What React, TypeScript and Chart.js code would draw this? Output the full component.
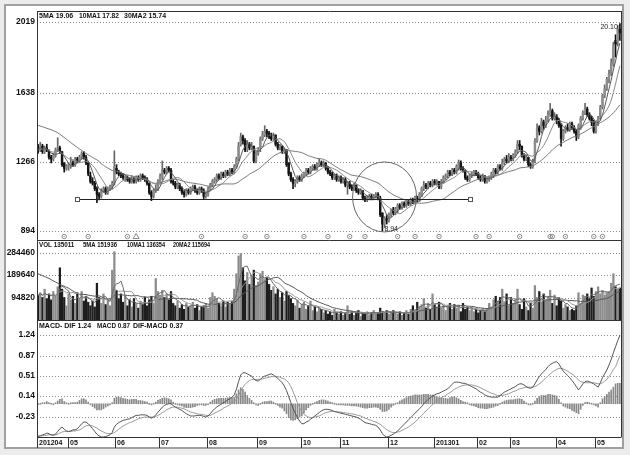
import React, { useEffect, useRef } from "react";
import { Chart, registerables } from "chart.js";

Chart.register(...registerables);

// ---------------- data ----------------
const monthLabels = ["201204", "05", "06", "07", "08", "09", "10", "11", "12", "201301", "02", "03", "04", "05"];
const monthStarts = [0, 14, 36, 56, 78, 101, 121, 139, 161, 182, 202, 217, 238, 256];

const opens = [
  13.5, 13.3, 13.5, 13.2, 13.4, 13.2, 12.9, 12.8, 13.0, 13.3,
  13.4, 13.2, 12.6, 12.3, 12.4, 12.4, 12.6, 12.5, 12.8, 12.7,
  12.9, 13.1, 12.9, 12.6, 11.9, 11.6, 11.5, 11.2, 10.9, 10.8,
  11.1, 11.2, 11.0, 11.2, 11.3, 11.5, 12.3, 12.1, 12.0, 11.9,
  11.8, 11.8, 11.7, 11.6, 11.7, 11.6, 11.8, 11.7, 11.9, 11.8,
  11.7, 11.5, 11.0, 10.8, 11.1, 11.2, 11.6, 11.8, 12.2, 12.1,
  12.3, 12.2, 11.6, 11.5, 11.3, 11.4, 11.2, 11.0, 10.9, 11.1,
  11.0, 11.2, 11.3, 11.1, 11.0, 11.2, 11.1, 10.8, 10.9, 11.2,
  11.4, 11.6, 11.7, 11.9, 11.8, 12.0, 11.9, 12.1, 12.0, 12.2,
  12.1, 12.4, 12.8, 13.6, 14.0, 13.8, 13.3, 13.6, 13.4, 13.5,
  12.7, 13.1, 13.4, 13.9, 14.1, 14.3, 14.2, 14.0, 13.9, 14.1,
  13.6, 13.4, 13.5, 13.2, 13.3, 12.6, 12.0, 11.7, 11.5, 11.6,
  11.8, 11.7, 11.9, 12.0, 12.2, 12.1, 12.3, 12.4, 12.3, 12.5,
  12.6, 12.5, 12.6, 12.3, 12.1, 12.0, 11.8, 11.9, 11.7, 11.8,
  11.6, 11.7, 11.4, 11.5, 11.3, 11.2, 11.4, 11.1, 11.0, 11.1,
  10.7, 10.6, 10.7, 10.8, 10.7, 10.8, 10.9, 10.7, 9.9, 9.3,
  9.6, 9.5, 9.8, 10.1, 9.9, 10.1, 10.3, 10.2, 10.4, 10.3,
  10.5, 10.4, 10.6, 10.5, 10.7, 10.6, 10.8, 11.2, 11.4, 11.3,
  11.5, 11.4, 11.6, 11.5, 11.6, 11.3, 11.6, 11.8, 11.9, 12.1,
  12.0, 12.2, 12.1, 12.3, 12.6, 12.3, 12.2, 11.8, 11.7, 11.9,
  12.0, 12.1, 12.0, 11.8, 11.7, 11.9, 11.6, 11.7, 11.8, 11.9,
  12.2, 12.1, 12.4, 12.3, 12.6, 12.8, 12.7, 12.9, 12.8, 13.0,
  13.2, 13.6, 13.5, 13.0, 12.8, 12.9, 12.5, 12.4, 12.8, 13.8,
  14.5, 14.3, 14.8, 14.6, 14.9, 15.2, 15.4, 15.0, 15.1, 14.9,
  14.7, 13.9, 14.3, 14.5, 14.4, 14.7, 14.5, 14.3, 14.0, 14.5,
  15.0, 15.3, 15.5, 15.2, 15.0, 14.8, 14.3, 14.7, 15.1, 15.6,
  16.2, 16.6, 17.1, 17.4, 17.9, 19.2, 19.1, 19.8,
];

const highs = [
  13.6, 13.7, 13.6, 13.5, 13.6, 13.3, 13.0, 13.1, 13.4, 13.95,
  13.5, 13.2, 12.6, 12.5, 12.6, 12.9, 12.7, 12.9, 12.9, 13.0,
  13.2, 13.2, 13.0, 12.6, 12.1, 11.8, 11.6, 11.3, 11.0, 11.2,
  11.3, 11.3, 11.3, 11.4, 11.6, 13.25, 12.5, 12.2, 12.1, 12.0,
  11.9, 11.9, 11.8, 11.9, 11.8, 11.9, 11.9, 12.0, 12.0, 11.9,
  11.8, 11.5, 11.1, 11.2, 11.4, 11.7, 12.0, 12.7, 12.3, 12.4,
  12.4, 12.3, 11.7, 11.6, 11.5, 11.5, 11.3, 11.1, 11.2, 11.2,
  11.3, 11.4, 11.4, 11.2, 11.3, 11.3, 11.2, 11.0, 11.3, 11.5,
  11.7, 11.8, 12.0, 12.0, 12.1, 12.1, 12.2, 12.2, 12.3, 12.3,
  12.5, 12.9, 13.7, 14.2, 14.1, 13.9, 13.8, 13.7, 13.7, 13.5,
  13.2, 13.4, 14.0, 14.3, 14.6, 14.4, 14.3, 14.2, 14.2, 14.1,
  13.7, 13.6, 13.5, 13.4, 13.3, 12.6, 12.1, 11.8, 11.7, 11.9,
  11.9, 12.0, 12.1, 12.3, 12.3, 12.4, 12.5, 12.5, 12.6, 12.8,
  12.7, 12.7, 12.6, 12.4, 12.2, 12.1, 12.0, 12.0, 11.9, 11.9,
  11.8, 11.8, 11.6, 11.6, 11.4, 11.5, 11.4, 11.2, 11.2, 11.1,
  10.8, 10.8, 10.9, 10.9, 10.9, 11.0, 11.0, 10.8, 9.9, 9.7,
  9.8, 9.9, 10.1, 10.2, 10.2, 10.4, 10.4, 10.5, 10.5, 10.6,
  10.6, 10.7, 10.7, 10.8, 10.8, 11.0, 11.3, 11.6, 11.5, 11.6,
  11.6, 11.7, 11.7, 11.7, 11.6, 11.7, 11.9, 12.0, 12.2, 12.2,
  12.3, 12.3, 12.5, 12.75, 12.7, 12.4, 12.2, 11.9, 12.0, 12.1,
  12.2, 12.2, 12.1, 11.9, 12.0, 11.9, 11.8, 11.9, 12.1, 12.3,
  12.3, 12.5, 12.5, 12.8, 12.9, 13.0, 13.1, 13.0, 13.1, 13.3,
  13.8, 13.8, 13.5, 13.1, 13.0, 12.9, 12.6, 12.8, 13.9, 14.7,
  14.6, 15.0, 14.9, 15.1, 15.4, 15.8, 15.5, 15.3, 15.2, 15.0,
  14.7, 14.4, 14.6, 14.7, 14.8, 14.8, 14.6, 14.4, 14.7, 15.1,
  15.4, 15.8, 15.6, 15.3, 15.1, 14.9, 14.8, 15.1, 15.7, 16.3,
  16.8, 17.2, 17.6, 18.2, 19.1, 19.5, 20.0, 20.1,
];

const lows = [
  13.1, 13.2, 13.1, 13.1, 13.2, 12.8, 12.6, 12.7, 12.9, 13.2,
  13.1, 12.4, 12.1, 12.2, 12.2, 12.3, 12.4, 12.4, 12.6, 12.6,
  12.8, 12.8, 12.5, 11.9, 11.5, 11.4, 11.1, 10.45, 10.6, 10.7,
  11.0, 10.9, 10.9, 11.1, 11.2, 11.4, 12.0, 11.9, 11.8, 11.7,
  11.6, 11.6, 11.5, 11.5, 11.5, 11.5, 11.6, 11.6, 11.7, 11.6,
  11.4, 10.9, 10.56, 10.7, 11.0, 11.1, 11.5, 11.7, 12.0, 12.0,
  12.1, 11.5, 11.4, 11.2, 11.2, 11.1, 10.9, 10.75, 10.8, 10.9,
  10.9, 11.1, 11.0, 10.9, 10.9, 11.0, 10.67, 10.7, 10.8, 11.1,
  11.3, 11.5, 11.6, 11.7, 11.7, 11.8, 11.8, 11.9, 11.9, 12.0,
  12.0, 12.3, 12.7, 13.5, 13.6, 13.2, 13.2, 13.3, 13.3, 12.6,
  12.6, 13.0, 13.2, 13.8, 14.0, 14.0, 13.9, 13.8, 13.8, 13.5,
  13.3, 13.3, 13.1, 13.1, 12.4, 11.9, 11.6, 11.2, 11.3, 11.5,
  11.6, 11.6, 11.8, 11.9, 12.0, 12.0, 12.2, 12.2, 12.2, 12.4,
  12.4, 12.4, 12.2, 12.0, 11.9, 11.7, 11.7, 11.6, 11.6, 11.5,
  11.5, 11.3, 10.9, 11.2, 11.1, 11.1, 11.0, 10.9, 10.9, 10.6,
  10.5, 10.5, 10.6, 10.6, 10.6, 10.7, 10.6, 9.7, 8.94, 9.1,
  9.3, 9.4, 9.7, 9.8, 9.8, 9.9, 10.1, 10.1, 10.2, 10.2,
  10.3, 10.3, 10.4, 10.4, 10.5, 10.5, 10.8, 11.1, 11.2, 11.2,
  11.3, 11.3, 11.4, 11.4, 11.2, 11.2, 11.5, 11.7, 11.8, 11.9,
  11.9, 12.0, 12.0, 12.2, 12.2, 12.1, 11.7, 11.6, 11.6, 11.8,
  11.9, 11.9, 11.7, 11.6, 11.6, 11.5, 11.5, 11.6, 11.7, 11.8,
  12.0, 12.0, 12.2, 12.2, 12.5, 12.6, 12.6, 12.7, 12.7, 12.9,
  13.1, 13.3, 12.9, 12.7, 12.7, 12.4, 12.3, 12.3, 12.6, 13.7,
  14.1, 14.2, 14.4, 14.5, 14.8, 15.1, 14.9, 14.9, 14.7, 14.5,
  13.5, 13.8, 14.2, 14.3, 14.3, 14.4, 14.2, 13.8, 13.9, 14.4,
  14.9, 15.2, 15.1, 14.9, 14.6, 14.2, 14.2, 14.6, 14.9, 15.5,
  16.1, 16.5, 16.9, 17.3, 17.8, 18.3, 18.9, 19.2,
];

const closes = [
  13.3, 13.5, 13.2, 13.4, 13.3, 12.9, 12.8, 13.0, 13.3, 13.4,
  13.2, 12.5, 12.3, 12.4, 12.4, 12.6, 12.5, 12.8, 12.7, 12.9,
  13.1, 12.9, 12.6, 12.0, 11.6, 11.5, 11.2, 10.9, 10.8, 11.1,
  11.2, 11.0, 11.2, 11.3, 11.5, 12.4, 12.1, 12.0, 11.9, 11.8,
  11.8, 11.7, 11.6, 11.7, 11.6, 11.8, 11.7, 11.9, 11.8, 11.7,
  11.5, 11.0, 10.8, 11.1, 11.2, 11.6, 11.9, 12.2, 12.1, 12.3,
  12.2, 11.6, 11.5, 11.3, 11.4, 11.2, 11.0, 10.9, 11.1, 11.0,
  11.2, 11.3, 11.1, 11.0, 11.2, 11.1, 10.8, 10.9, 11.2, 11.4,
  11.6, 11.7, 11.9, 11.8, 12.0, 11.9, 12.1, 12.0, 12.2, 12.1,
  12.4, 12.8, 13.5, 14.0, 13.8, 13.3, 13.6, 13.4, 13.5, 12.7,
  13.1, 13.3, 13.9, 14.1, 14.3, 14.2, 14.0, 13.9, 14.1, 13.6,
  13.4, 13.5, 13.2, 13.3, 12.5, 12.0, 11.7, 11.5, 11.6, 11.8,
  11.7, 11.9, 12.0, 12.2, 12.1, 12.3, 12.4, 12.3, 12.5, 12.6,
  12.5, 12.6, 12.3, 12.1, 12.0, 11.8, 11.9, 11.7, 11.8, 11.6,
  11.7, 11.4, 11.5, 11.3, 11.2, 11.4, 11.1, 11.0, 11.1, 10.7,
  10.6, 10.7, 10.8, 10.7, 10.8, 10.9, 10.7, 9.8, 9.3, 9.6,
  9.5, 9.8, 10.0, 9.9, 10.1, 10.3, 10.2, 10.4, 10.3, 10.5,
  10.4, 10.6, 10.5, 10.7, 10.6, 10.9, 11.2, 11.4, 11.3, 11.5,
  11.4, 11.6, 11.5, 11.6, 11.3, 11.6, 11.8, 11.9, 12.1, 12.0,
  12.2, 12.1, 12.4, 12.6, 12.3, 12.2, 11.8, 11.7, 11.9, 12.0,
  12.1, 12.0, 11.8, 11.7, 11.9, 11.6, 11.7, 11.8, 12.0, 12.2,
  12.1, 12.4, 12.3, 12.6, 12.8, 12.7, 12.9, 12.8, 13.0, 13.2,
  13.6, 13.5, 13.0, 12.8, 12.9, 12.5, 12.4, 12.7, 13.8, 14.5,
  14.3, 14.8, 14.6, 14.9, 15.2, 15.4, 15.0, 15.1, 14.9, 14.6,
  13.9, 14.3, 14.5, 14.4, 14.7, 14.5, 14.3, 14.0, 14.6, 15.0,
  15.3, 15.5, 15.2, 15.0, 14.8, 14.3, 14.7, 15.0, 15.6, 16.2,
  16.6, 17.1, 17.4, 18.0, 18.9, 19.0, 19.8, 19.6,
];

// 30-day average before its window is complete
const ma30Lead = [
  14.62, 14.58, 14.54, 14.50, 14.46, 14.42, 14.38, 14.33, 14.28, 14.22,
  14.14, 14.05, 13.96, 13.87, 13.78, 13.69, 13.60, 13.51, 13.43, 13.35,
  13.27, 13.19, 13.11, 13.03, 12.96, 12.89, 12.82, 12.76, 12.68,
];

const volumes = [
  105000, 115000, 95000, 130000, 90000, 110000, 85000, 120000, 100000, 140000,
  220000, 130000, 95000, 60000, 110000, 85000, 100000, 70000, 115000, 90000,
  120000, 80000, 100000, 75000, 60000, 80000, 55000, 155000, 95000, 70000,
  110000, 65000, 85000, 60000, 210000, 288000, 125000, 90000, 110000, 75000,
  100000, 60000, 85000, 55000, 90000, 70000, 50000, 80000, 65000, 95000,
  60000, 85000, 100000, 70000, 175000, 120000, 105000, 125000, 95000, 110000,
  85000, 120000, 70000, 60000, 80000, 50000, 65000, 45000, 70000, 55000,
  60000, 75000, 50000, 65000, 40000, 55000, 60000, 70000, 50000, 95000,
  115000, 100000, 90000, 70000, 60000, 80000, 55000, 75000, 65000, 80000,
  130000, 195000, 270000, 280000, 220000, 165000, 200000, 150000, 185000, 210000,
  145000, 160000, 195000, 205000, 170000, 180000, 150000, 125000, 140000, 110000,
  130000, 95000, 115000, 80000, 120000, 105000, 90000, 70000, 60000, 85000,
  50000, 65000, 75000, 45000, 60000, 80000, 40000, 55000, 35000, 50000,
  45000, 30000, 40000, 25000, 35000, 20000, 45000, 30000, 25000, 35000,
  20000, 30000, 60000, 25000, 35000, 20000, 30000, 40000, 15000, 30000,
  25000, 35000, 20000, 30000, 40000, 25000, 30000, 50000, 35000, 30000,
  40000, 25000, 35000, 40000, 30000, 25000, 35000, 20000, 30000, 40000,
  25000, 45000, 60000, 40000, 75000, 55000, 65000, 90000, 50000, 70000,
  45000, 110000, 65000, 55000, 75000, 50000, 60000, 40000, 55000, 70000,
  45000, 65000, 50000, 60000, 35000, 70000, 45000, 55000, 40000, 50000,
  35000, 45000, 30000, 40000, 50000, 35000, 45000, 70000, 55000, 85000,
  100000, 80000, 95000, 130000, 75000, 110000, 60000, 95000, 70000, 85000,
  130000, 65000, 45000, 90000, 55000, 40000, 70000, 50000, 145000, 95000,
  120000, 75000, 110000, 85000, 100000, 125000, 70000, 105000, 60000, 95000,
  80000, 50000, 65000, 55000, 40000, 45000, 40000, 60000, 115000, 70000,
  105000, 100000, 110000, 90000, 135000, 100000, 120000, 140000, 110000, 125000,
  105000, 115000, 120000, 155000, 195000, 140000, 130000, 135000,
];

// 20-day volume average before its window is complete
const vol20Lead = [
  195000, 191000, 187000, 183000, 179000, 175000, 170000, 165000, 160000, 155000,
  150000, 146000, 142000, 138000, 134000, 128000, 122000, 117000, 112000,
];

const dif = [
  -0.59, -0.58, -0.56, -0.55, -0.53, -0.54, -0.56, -0.57, -0.55, -0.50,
  -0.45, -0.42, -0.46, -0.49, -0.50, -0.49, -0.47, -0.47, -0.45, -0.41,
  -0.36, -0.33, -0.33, -0.36, -0.40, -0.45, -0.50, -0.55, -0.58, -0.60,
  -0.60, -0.59, -0.58, -0.56, -0.52, -0.42, -0.37, -0.34, -0.32, -0.30,
  -0.29, -0.28, -0.27, -0.25, -0.23, -0.21, -0.21, -0.20, -0.20, -0.20,
  -0.21, -0.24, -0.26, -0.24, -0.20, -0.15, -0.11, -0.06, -0.03, -0.01,
  0.00, 0.00, -0.03, -0.06, -0.08, -0.10, -0.12, -0.15, -0.18, -0.20,
  -0.22, -0.22, -0.22, -0.21, -0.21, -0.21, -0.23, -0.24, -0.22, -0.18,
  -0.13, -0.09, -0.06, -0.03, -0.01, 0.02, 0.04, 0.07, 0.09, 0.12,
  0.16, 0.26, 0.40, 0.52, 0.56, 0.56, 0.54, 0.52, 0.50, 0.45,
  0.42, 0.41, 0.44, 0.48, 0.50, 0.51, 0.53, 0.54, 0.52, 0.49,
  0.46, 0.42, 0.38, 0.32, 0.24, 0.13, 0.02, -0.08, -0.17, -0.25,
  -0.31, -0.36, -0.36, -0.33, -0.31, -0.28, -0.25, -0.22, -0.19, -0.16,
  -0.13, -0.11, -0.10, -0.10, -0.11, -0.12, -0.14, -0.15, -0.16, -0.17,
  -0.18, -0.19, -0.20, -0.21, -0.22, -0.23, -0.24, -0.26, -0.28, -0.31,
  -0.34, -0.35, -0.36, -0.37, -0.38, -0.39, -0.42, -0.47, -0.54, -0.58,
  -0.60, -0.59, -0.57, -0.55, -0.52, -0.49, -0.45, -0.41, -0.37, -0.33,
  -0.29, -0.25, -0.21, -0.17, -0.13, -0.09, -0.05, 0.00, 0.04, 0.08,
  0.11, 0.14, 0.16, 0.18, 0.19, 0.21, 0.23, 0.25, 0.27, 0.31,
  0.35, 0.39, 0.39, 0.39, 0.38, 0.37, 0.37, 0.35, 0.33, 0.31,
  0.29, 0.27, 0.24, 0.21, 0.19, 0.16, 0.14, 0.13, 0.12, 0.12,
  0.12, 0.12, 0.15, 0.18, 0.21, 0.23, 0.25, 0.27, 0.29, 0.31,
  0.34, 0.36, 0.36, 0.34, 0.31, 0.29, 0.28, 0.30, 0.36, 0.43,
  0.49, 0.54, 0.58, 0.62, 0.67, 0.71, 0.73, 0.75, 0.76, 0.72,
  0.65, 0.59, 0.55, 0.51, 0.47, 0.42, 0.37, 0.31, 0.25, 0.30,
  0.36, 0.40, 0.41, 0.40, 0.38, 0.36, 0.33, 0.30, 0.38, 0.47,
  0.54, 0.61, 0.70, 0.80, 0.92, 1.03, 1.14, 1.24,
];

const dea = [
  -0.58, -0.58, -0.58, -0.57, -0.57, -0.56, -0.56, -0.56, -0.56, -0.55,
  -0.53, -0.51, -0.50, -0.50, -0.50, -0.50, -0.49, -0.49, -0.48, -0.47,
  -0.45, -0.42, -0.40, -0.39, -0.39, -0.40, -0.42, -0.44, -0.47, -0.49,
  -0.51, -0.53, -0.54, -0.54, -0.54, -0.52, -0.49, -0.46, -0.43, -0.40,
  -0.38, -0.36, -0.34, -0.33, -0.31, -0.29, -0.27, -0.26, -0.25, -0.24,
  -0.24, -0.24, -0.24, -0.24, -0.23, -0.21, -0.19, -0.16, -0.14, -0.11,
  -0.09, -0.07, -0.06, -0.06, -0.06, -0.07, -0.08, -0.09, -0.11, -0.13,
  -0.15, -0.16, -0.17, -0.18, -0.19, -0.19, -0.20, -0.21, -0.21, -0.21,
  -0.19, -0.17, -0.15, -0.13, -0.11, -0.08, -0.06, -0.04, -0.02, 0.01,
  0.04, 0.08, 0.15, 0.23, 0.30, 0.35, 0.39, 0.42, 0.44, 0.44,
  0.44, 0.44, 0.44, 0.45, 0.46, 0.47, 0.48, 0.49, 0.49, 0.49,
  0.49, 0.48, 0.46, 0.45, 0.42, 0.38, 0.31, 0.22, 0.12, 0.02,
  -0.07, -0.14, -0.19, -0.22, -0.24, -0.25, -0.25, -0.24, -0.23, -0.22,
  -0.20, -0.18, -0.16, -0.15, -0.14, -0.14, -0.14, -0.14, -0.15, -0.15,
  -0.16, -0.16, -0.17, -0.18, -0.18, -0.19, -0.20, -0.21, -0.22, -0.24,
  -0.26, -0.27, -0.29, -0.30, -0.32, -0.33, -0.35, -0.37, -0.40, -0.44,
  -0.47, -0.49, -0.51, -0.52, -0.52, -0.51, -0.50, -0.48, -0.46, -0.44,
  -0.42, -0.39, -0.36, -0.33, -0.29, -0.25, -0.21, -0.17, -0.13, -0.09,
  -0.05, -0.02, 0.02, 0.05, 0.08, 0.10, 0.13, 0.15, 0.18, 0.20,
  0.23, 0.26, 0.28, 0.30, 0.32, 0.33, 0.34, 0.34, 0.34, 0.34,
  0.33, 0.32, 0.31, 0.29, 0.27, 0.25, 0.23, 0.21, 0.19, 0.18,
  0.16, 0.15, 0.15, 0.15, 0.16, 0.17, 0.18, 0.20, 0.22, 0.23,
  0.25, 0.27, 0.28, 0.29, 0.30, 0.30, 0.30, 0.30, 0.31, 0.33,
  0.36, 0.39, 0.43, 0.47, 0.50, 0.54, 0.57, 0.60, 0.62, 0.64,
  0.64, 0.63, 0.61, 0.59, 0.56, 0.54, 0.51, 0.47, 0.43, 0.40,
  0.39, 0.38, 0.38, 0.38, 0.38, 0.38, 0.37, 0.36, 0.36, 0.38,
  0.41, 0.44, 0.49, 0.55, 0.62, 0.67, 0.77, 0.87,
];

const priceTicks = [8.94, 12.66, 16.38, 20.19];
const volumeTicks = [94820, 189640, 284460];
const macdTicks = [-0.23, 0.14, 0.51, 0.87, 1.24];

const priceHeader = ["5MA 19.06", "10MA1 17.82", "30MA2 15.74"];
const volumeHeader = ["VOL 135011", "5MA 151936", "10MA1 136354", "20MA2 115694"];
const macdHeader = ["MACD- DIF 1.24", "MACD 0.87", "DIF-MACD 0.37"];

const infoMarkers = [12, 23, 41, 75, 95, 105, 122, 133, 143, 150, 165, 173, 184, 201, 207, 221, 235, 236, 242, 255, 259];
const triangleMarkers = [45];

const supportLevel = 10.63;
const supportFrom = 18;
const supportTo = 198;
const circleIndex = 159;
const circleValue = 10.76;
const lowIndex = 158;
const lowValue = 8.94;
const lowText = "8.94";
const highIndex = 267;
const highValue = 20.1;
const highText = "20.10";

// ---------------- derived (built from the arrays above) ----------------
function movingAverage(src: number[], n: number, lead: number[] = []): number[] {
  return src.map((_, i) => {
    if (i < lead.length) return lead[i];
    const s = Math.max(0, i - n + 1);
    let sum = 0;
    for (let k = s; k <= i; k++) sum += src[k];
    return sum / (i - s + 1);
  });
}

const labels = closes.map((_, i) => String(i));
const isUp = closes.map((c, i) => c >= opens[i]);
const histogram = dif.map((d, i) => Math.round((d - dea[i]) * 1000) / 1000);

const FONT = '"Liberation Sans", "Arial", sans-serif';

function paneAxis(min: number, max: number, weight: number, stackWeight: number, ticks: number[], fmt: (v: number) => string) {
  return {
    type: "linear",
    position: "left",
    stack: "panes",
    stackWeight,
    weight,
    min,
    max,
    grid: { display: false, drawTicks: false },
    border: { display: false },
    afterFit: (s: any) => {
      s.width = 37;
    },
    afterBuildTicks: (s: any) => {
      s.ticks = ticks.map((v) => ({ value: v }));
    },
    ticks: {
      autoSkip: false,
      padding: 2,
      color: "#111",
      font: { family: FONT, size: 8.5, weight: "bold" },
      callback: (v: any) => fmt(Number(v)),
    },
  };
}

const decor = {
  id: "decor",
  beforeDraw(chart: any) {
    const { ctx, width, height, chartArea } = chart;
    const yP = chart.scales.yP;
    const yV = chart.scales.yV;
    const yM = chart.scales.yM;
    ctx.save();
    ctx.fillStyle = "#ececec";
    ctx.fillRect(0, 0, width, height);
    ctx.fillStyle = "#ffffff";
    ctx.fillRect(5, 5, 618, 443);
    ctx.strokeStyle = "#a0a0a0";
    ctx.lineWidth = 2;
    ctx.strokeRect(5, 5, 618, 443);

    ctx.lineWidth = 1;
    ctx.strokeStyle = "#8c8c8c";
    ctx.setLineDash([1, 2]);
    const grid = (scale: any, vals: number[]) => {
      vals.forEach((v) => {
        const y = Math.round(scale.getPixelForValue(v)) + 0.5;
        ctx.beginPath();
        ctx.moveTo(chartArea.left, y);
        ctx.lineTo(chartArea.right, y);
        ctx.stroke();
      });
    };
    grid(yP, priceTicks);
    grid(yV, volumeTicks);
    grid(yM, macdTicks);
    ctx.setLineDash([]);
    ctx.restore();
  },
  afterDraw(chart: any) {
    const { ctx, chartArea } = chart;
    const x = chart.scales.x;
    const yP = chart.scales.yP;
    const yV = chart.scales.yV;
    const step = x.getPixelForValue(1) - x.getPixelForValue(0);
    ctx.save();

    ctx.strokeStyle = "#333";
    ctx.lineWidth = 1;
    const L = chartArea.left + 0.5;
    const R = Math.round(chartArea.right) + 0.5;
    const hline = (y: number) => {
      const yy = Math.round(y) + 0.5;
      ctx.beginPath();
      ctx.moveTo(L, yy);
      ctx.lineTo(R, yy);
      ctx.stroke();
    };
    hline(chartArea.top);
    hline(yP.bottom);
    hline(yV.bottom);
    hline(chartArea.bottom);
    ctx.beginPath();
    ctx.moveTo(L, chartArea.top);
    ctx.lineTo(L, 448);
    ctx.moveTo(R, chartArea.top);
    ctx.lineTo(R, chartArea.bottom);
    ctx.stroke();

    // month ticks and labels
    ctx.font = `bold 7px ${FONT}`;
    ctx.fillStyle = "#111";
    ctx.textBaseline = "middle";
    ctx.textAlign = "left";
    monthStarts.forEach((idx, k) => {
      const mx = Math.round(x.getPixelForValue(idx) - step / 2) + 0.5;
      ctx.beginPath();
      ctx.moveTo(mx, chartArea.bottom);
      ctx.lineTo(mx, 448);
      ctx.stroke();
      ctx.fillText(monthLabels[k], mx + 1.5, chartArea.bottom + 6.5);
    });

    // pane headers (slightly condensed, as in the picture)
    const header = (items: string[], xs: number[], ws: number[], y: number) => {
      items.forEach((t, k) => ctx.fillText(t, xs[k], y, ws[k]));
    };
    ctx.font = `bold 7px ${FONT}`;
    header(priceHeader, [39, 79, 124], [35, 40, 43], chartArea.top + 5.5);
    ctx.font = `bold 6.3px ${FONT}`;
    header(volumeHeader, [39, 83, 127, 173], [36, 34, 38, 37], yP.bottom + 5.5);
    ctx.font = `bold 7px ${FONT}`;
    header(macdHeader, [39, 97, 133], [53, 33, 55], yV.bottom + 6);

    // info markers row
    ctx.strokeStyle = "#8a8a8a";
    ctx.fillStyle = "#8a8a8a";
    const my = yP.bottom - 3.5;
    infoMarkers.forEach((idx) => {
      const mx = x.getPixelForValue(idx);
      ctx.beginPath();
      ctx.arc(mx, my, 2.2, 0, Math.PI * 2);
      ctx.stroke();
      ctx.fillRect(mx - 0.5, my - 0.5, 1, 1);
    });
    triangleMarkers.forEach((idx) => {
      const mx = x.getPixelForValue(idx);
      ctx.beginPath();
      ctx.moveTo(mx, my - 3);
      ctx.lineTo(mx + 3, my + 2);
      ctx.lineTo(mx - 3, my + 2);
      ctx.closePath();
      ctx.stroke();
    });

    // support line with end squares
    ctx.strokeStyle = "#222";
    const sy = Math.round(yP.getPixelForValue(supportLevel)) + 0.5;
    const sx1 = Math.round(x.getPixelForValue(supportFrom)) + 0.5;
    const sx2 = Math.round(x.getPixelForValue(supportTo)) + 0.5;
    ctx.beginPath();
    ctx.moveTo(sx1 + 2, sy);
    ctx.lineTo(sx2 - 2, sy);
    ctx.stroke();
    ctx.strokeStyle = "#555";
    ctx.strokeRect(sx1 - 2, sy - 2, 4, 4);
    ctx.strokeRect(sx2 - 2, sy - 2, 4, 4);

    // circle annotation
    ctx.strokeStyle = "#666";
    ctx.beginPath();
    ctx.ellipse(x.getPixelForValue(circleIndex), yP.getPixelForValue(circleValue), 32, 35, 0, 0, Math.PI * 2);
    ctx.stroke();

    // extreme labels
    ctx.fillStyle = "#222";
    ctx.font = `7px ${FONT}`;
    ctx.textBaseline = "alphabetic";
    ctx.textAlign = "left";
    ctx.fillText(lowText, x.getPixelForValue(lowIndex) + 2, yP.getPixelForValue(lowValue));
    ctx.textAlign = "right";
    ctx.fillText(highText, x.getPixelForValue(highIndex) - 2, yP.getPixelForValue(highValue) + 5);

    ctx.restore();
  },
};

export default function App() {
  const ref = useRef<HTMLCanvasElement>(null);

  useEffect(() => {
    if (!ref.current) return;
    const line = (data: number[], axis: string, color: string) => ({
      type: "line",
      data,
      yAxisID: axis,
      borderColor: color,
      borderWidth: 1,
      pointRadius: 0,
      order: 0,
    });
    const chart = new Chart(ref.current, {
      type: "bar",
      data: {
        labels,
        datasets: [
          line(movingAverage(closes, 5), "yP", "#5a5a5a"),
          line(movingAverage(closes, 10), "yP", "#8a8a8a"),
          line(movingAverage(closes, 30, ma30Lead), "yP", "#7a7a7a"),
          {
            type: "bar",
            data: lows.map((l, i) => [l, highs[i]]),
            yAxisID: "yP",
            backgroundColor: isUp.map((u) => (u ? "#666" : "#111")),
            barThickness: 1,
            grouped: false,
            order: 2,
          },
          {
            type: "bar",
            data: opens.map((o, i) => [o, closes[i]]),
            yAxisID: "yP",
            backgroundColor: isUp.map((u) => (u ? "#8c8c8c" : "#141414")),
            barThickness: 1.8,
            minBarLength: 1,
            grouped: false,
            order: 1,
          },
          {
            type: "bar",
            data: volumes,
            yAxisID: "yV",
            backgroundColor: isUp.map((u) => (u ? "#8c8c8c" : "#1e1e1e")),
            barThickness: 1.6,
            grouped: false,
            order: 1,
          },
          line(movingAverage(volumes, 5), "yV", "#6a6a6a"),
          line(movingAverage(volumes, 10), "yV", "#999"),
          line(movingAverage(volumes, 20, vol20Lead), "yV", "#555"),
          {
            type: "bar",
            data: histogram,
            yAxisID: "yM",
            backgroundColor: "#888",
            barThickness: 1,
            minBarLength: 1,
            grouped: false,
            order: 1,
          },
          line(dif, "yM", "#555"),
          line(dea, "yM", "#999"),
        ] as any,
      },
      options: {
        responsive: false,
        animation: false,
        devicePixelRatio: 1,
        events: [],
        layout: { padding: { left: 0, top: 11, right: 9, bottom: 18 } },
        plugins: { legend: { display: false }, tooltip: { enabled: false } },
        scales: {
          x: { type: "category", display: false, offset: true, grid: { display: false } },
          yP: paneAxis(8.44, 20.78, 3, 229, priceTicks, (v) => String(Math.round(v * 100))),
          yV: paneAxis(0, 337138, 2, 80, volumeTicks, (v) => String(Math.round(v))),
          yM: paneAxis(-0.6, 1.513, 1, 117, macdTicks, (v) => v.toFixed(2)),
        } as any,
      },
      plugins: [decor],
    } as any);
    return () => chart.destroy();
  }, []);

  return (
    <div style={{ position: "absolute", left: 0, top: 0, width: 630, height: 455 }}>
      <canvas ref={ref} width={630} height={455} style={{ display: "block", width: 630, height: 455 }} />
    </div>
  );
}
